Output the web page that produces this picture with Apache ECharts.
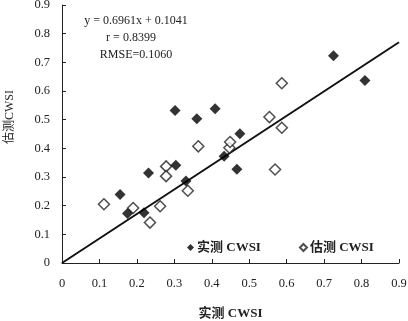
<!DOCTYPE html>
<html>
<head>
<meta charset="utf-8">
<script src="https://cdn.jsdelivr.net/npm/echarts@6/dist/echarts.min.js"></script>
<style>html,body{margin:0;padding:0;background:#fff}#c{width:408px;height:321px}</style>
</head>
<body>
<div id="c"></div>
<script>
// measured-series points [x, y]
const measuredPts = [
  [0.155,0.239],[0.175,0.173],[0.219,0.175],[0.231,0.314],[0.302,0.532],
  [0.304,0.341],[0.331,0.286],[0.360,0.503],[0.409,0.538],[0.433,0.372],
  [0.467,0.327],[0.475,0.451],[0.725,0.723],[0.809,0.637]
];
// estimated-series points [x, y]
const estimatedPts = [
  [0.112,0.205],[0.190,0.192],[0.235,0.141],[0.262,0.198],[0.278,0.337],
  [0.278,0.303],[0.336,0.252],[0.364,0.407],[0.447,0.402],[0.449,0.422],
  [0.554,0.509],[0.569,0.326],[0.587,0.472],[0.587,0.627]
];
// fitted line end points
const fitLine = [[0,0],[0.9,0.77]];
const seriesNames = ['实测 CWSI','估测 CWSI'];
const annotations = ['y = 0.6961x + 0.1041','r = 0.8399','RMSE=0.1060'];
const xName = '实测 CWSI';
const yName = '估测CWSI';

const serif = '"Liberation Serif","Noto Sans CJK SC",serif';
const chart = echarts.init(document.getElementById('c'));
chart.setOption({
  animation:false,
  backgroundColor:'#fff',
  grid:{left:62,right:9,top:5,bottom:58,containLabel:false,outerBoundsMode:'none'},
  xAxis:{type:'value',min:0,max:0.9,interval:0.1,
    name:xName,nameLocation:'middle',nameGap:44,
    nameTextStyle:{fontFamily:serif,fontSize:13,fontWeight:'bold',color:'#222'},
    axisLine:{lineStyle:{color:'#222',width:1}},
    axisTick:{inside:true,length:4,lineStyle:{color:'#222'}},
    axisLabel:{fontFamily:serif,fontSize:12.5,color:'#222',margin:14,formatter:v=>v===0?'0':v.toFixed(1)},
    splitLine:{show:false}},
  yAxis:{type:'value',min:0,max:0.9,interval:0.1,
    axisLine:{show:true,lineStyle:{color:'#222',width:1}},
    axisTick:{show:true,inside:true,length:4,lineStyle:{color:'#222'}},
    axisLabel:{fontFamily:serif,fontSize:12.5,color:'#222',margin:12,formatter:v=>v===0?'0':v.toFixed(1)},
    splitLine:{show:false}},
  legend:{data:seriesNames,left:182,top:236,itemWidth:7,itemHeight:7,itemGap:38,
    textStyle:{fontFamily:serif,fontSize:13,fontWeight:'bold',color:'#222',padding:[0,0,0,-2]}},
  graphic:[
    {type:'text',x:136,y:21,style:{text:annotations[0],font:'12px '+serif,fill:'#222',align:'center',verticalAlign:'middle'}},
    {type:'text',x:131,y:38,style:{text:annotations[1],font:'12px '+serif,fill:'#222',align:'center',verticalAlign:'middle'}},
    {type:'text',x:136,y:55,style:{text:annotations[2],font:'12px '+serif,fill:'#222',align:'center',verticalAlign:'middle'}},
    {type:'text',x:10,y:117,rotation:Math.PI/2,style:{text:yName,font:'12px "Liberation Serif","Noto Sans CJK SC",serif',fill:'#222',align:'center',verticalAlign:'middle'}}
  ],
  series:[
    {type:'line',data:fitLine,symbol:'none',lineStyle:{color:'#111',width:2},z:1,silent:true},
    {name:seriesNames[0],type:'scatter',data:measuredPts,symbol:'diamond',symbolSize:11,
      itemStyle:{color:'#000'},z:3},
    {name:seriesNames[1],type:'scatter',data:estimatedPts,symbol:'diamond',symbolSize:11,
      itemStyle:{color:'#fff',borderColor:'#222',borderWidth:1.5},z:2}
  ]
});
</script>
</body>
</html>
